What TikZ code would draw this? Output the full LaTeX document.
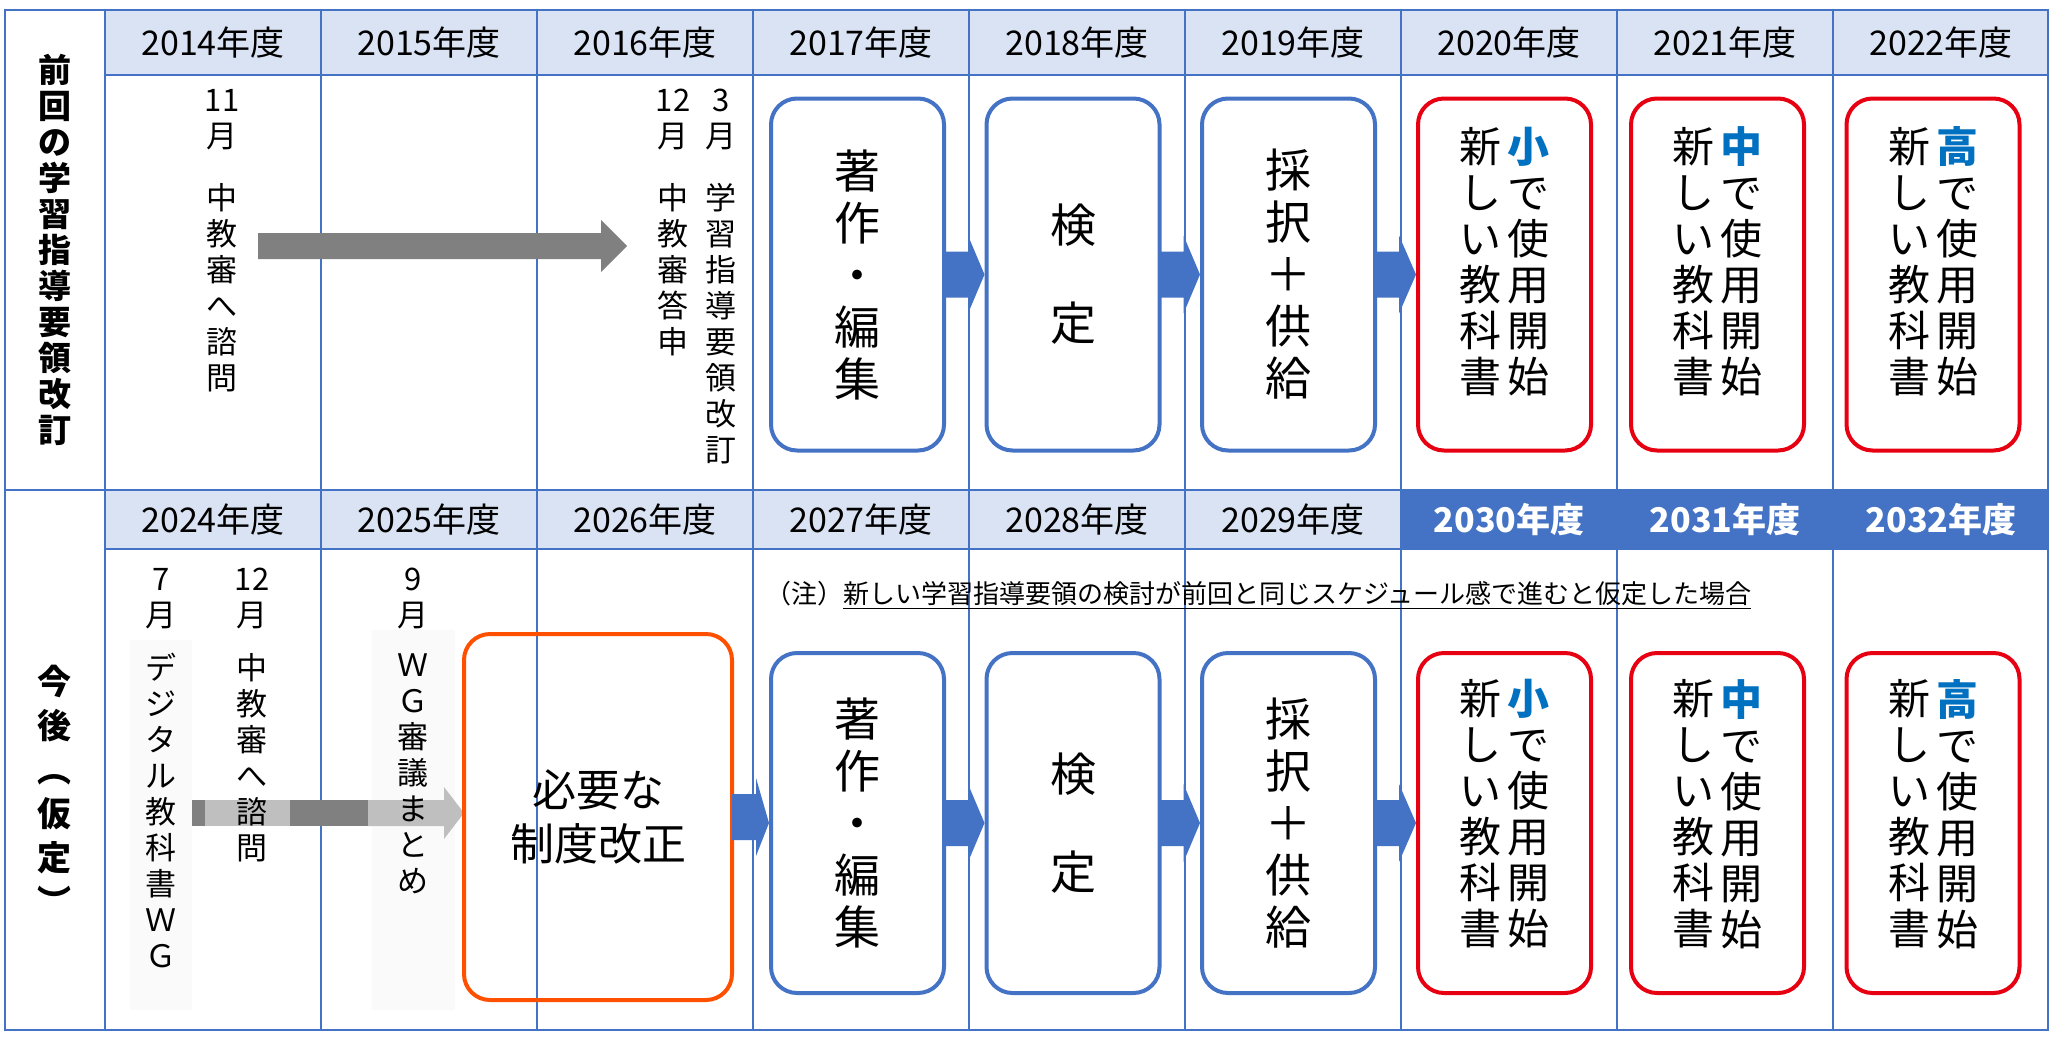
\documentclass[tikz,border=0pt]{standalone}
\usepackage{fontspec}
\setmainfont{Noto Sans CJK JP}
\usetikzlibrary{calc,positioning}
\definecolor{gridblue}{RGB}{68,114,196}
\definecolor{headfill}{RGB}{218,227,243}
\definecolor{boxred}{RGB}{230,0,18}
\definecolor{boxorange}{RGB}{255,80,0}
\definecolor{stageblue}{RGB}{0,112,192}
\newcommand{\fs}[2]{\fontsize{#1}{#2}\selectfont}
\newcommand{\blockarrow}[2]{\fill[gridblue] ($(#1.east)+(-2,-23)$) -- ($(#1.east)+(22,-23)$) -- ($(#1.east)+(22,-39)$) -- (#2.west) -- ($(#1.east)+(22,39)$) -- ($(#1.east)+(22,23)$) -- ($(#1.east)+(-2,23)$) -- cycle;}

\begin{document}
\begin{tikzpicture}[x=0.5pt,y=-0.5pt]
    \tikzstyle{yearhead} = [font=\fs{17}{20}]
    \tikzstyle{tate} = [font=\fs{15.5}{18}, align=center, inner sep=0pt, anchor=north]
    \tikzstyle{stage} = [draw=gridblue, line width=2pt, rounded corners=13pt, minimum width=86.5pt, font=\fs{23}{26}, align=center]
    \tikzstyle{start} = [stage, draw=boxred]
    \tikzstyle{coltext} = [font=\fs{21}{23}, align=center, inner sep=0pt, anchor=north]

    \useasboundingbox (0,0) rectangle (2050,1039);
    \fill[white] (0,0) rectangle (2050,1039);

    % header cells
    \fill[headfill] (105,10) rectangle (2048,75);
    \fill[headfill] (105,490) rectangle (1401,549);
    \fill[gridblue] (1401,490) rectangle (2048,549);
    \fill[black!2] (130,640) rectangle (192,1010);
    \fill[black!2] (372,630) rectangle (455,1010);

    % grid
    \draw[gridblue, line width=1pt] (5,10) rectangle (2048,1030);
    \draw[gridblue, line width=1pt] (5,490) -- (2048,490);
    \draw[gridblue, line width=1pt] (105,75) -- (2048,75) (105,549) -- (2048,549);
    \foreach \k in {0,...,8}
        \draw[gridblue, line width=1pt] (105+216*\k,10) -- (105+216*\k,1030);

    % year headers
    \foreach \yr [count=\i from 0] in {2014,...,2022}
        \node[yearhead] (top\i) at (213+216*\i,42.5) {\yr 年度};
    \foreach \yr [count=\i from 0] in {2024,...,2029}
        \node[yearhead] (bot\i) at (213+216*\i,519.5) {\yr 年度};
    \foreach \yr [count=\i from 6] in {2030,2031,2032}
        \node[yearhead, text=white, font=\fs{17}{20}\bfseries] (bot\i) at (213+216*\i,519.5) {\yr 年度};

    % row labels
    \node[font=\fs{16.5}{18}\bfseries, align=center] (prevlabel) at (55,250) {前\\回\\の\\学\\習\\指\\導\\要\\領\\改\\訂};
    \node[font=\fs{17}{22}\bfseries, align=center] (nextlabel) at (55,790) {今\\後\\︵\\仮\\定\\︶};

    % previous revision: events
    \fill[black!50] (258,233) -- (601,233) -- (601,220) -- (627,246) -- (601,272) -- (601,259) -- (258,259) -- cycle;
    \node[tate] (m11) at (222,89) {11\\月};
    \node[tate] (inq) at (222,183) {中\\教\\審\\へ\\諮\\問};
    \node[tate] (m12) at (673,89) {12\\月};
    \node[tate] (rep) at (673,183) {中\\教\\審\\答\\申};
    \node[tate] (m3) at (721,89) {3\\月};
    \node[tate] (rev) at (721,183) {学\\習\\指\\導\\要\\領\\改\\訂};

    % previous revision: stages
    \node[stage, minimum height=176pt] (edit) at (857.5,274.5) {著\\作\\・\\編\\集};
    \node[stage, minimum height=176pt] (check) at (1073,274.5) {検\\[23pt]定};
    \node[stage, minimum height=176pt] (supply) at (1288.5,274.5) {採\\択\\＋\\供\\給};
    \foreach \nm/\cx/\lv in {elem/1504.5/小, mid/1717.5/中, high/1933/高} {
        \node[start, minimum height=176pt] (\nm) at (\cx,274.5) {};
        \node[coltext] at ($(\nm.north)+(24,30)$) {{\color{stageblue}\bfseries \lv}\\で\\使\\用\\開\\始};
        \node[coltext] at ($(\nm.north)+(-24,30)$) {新\\し\\い\\教\\科\\書};
    }
    \blockarrow{edit}{check}
    \blockarrow{check}{supply}
    \blockarrow{supply}{elem}

    % next revision: events
    \fill[black!50] (192,800) rectangle (205,826);
    \fill[black!25] (205,800) rectangle (290,826);
    \fill[black!50] (290,800) rectangle (368,826);
    \fill[black!25] (368,800) -- (444,800) -- (444,787) -- (464,813) -- (444,839) -- (444,826) -- (368,826) -- cycle;
    \node[tate] (m7) at (161,568) {7\\月};
    \node[tate] (dwg) at (161,653) {デ\\ジ\\タ\\ル\\教\\科\\書\\Ｗ\\Ｇ};
    \node[tate] (m12b) at (252,568) {12\\月};
    \node[tate] (inqb) at (252,653) {中\\教\\審\\へ\\諮\\問};
    \node[tate] (m9) at (413,568) {9\\月};
    \node[tate] (wgsum) at (413,653) {Ｗ\\Ｇ\\審\\議\\ま\\と\\め};

    \node[anchor=west, font=\fs{13}{15}] (note) at (758,595) {（注）\underline{新しい学習指導要領の検討が前回と同じスケジュール感で進むと仮定した場合}};

    % next revision: stages
    \node[stage, draw=boxorange, minimum width=134pt, minimum height=183pt, font=\fs{22}{27}] (law) at (598,817) {必要な\\制度改正};
    \node[stage, minimum height=170pt] (edit2) at (857.5,823) {著\\作\\・\\編\\集};
    \node[stage, minimum height=170pt] (check2) at (1073,823) {検\\[23pt]定};
    \node[stage, minimum height=170pt] (supply2) at (1288.5,823) {採\\択\\＋\\供\\給};
    \foreach \nm/\cx/\lv in {elem2/1504.5/小, mid2/1717.5/中, high2/1933/高} {
        \node[start, minimum height=170pt] (\nm) at (\cx,823) {};
        \node[coltext] at ($(\nm.north)+(24,28)$) {{\color{stageblue}\bfseries \lv}\\で\\使\\用\\開\\始};
        \node[coltext] at ($(\nm.north)+(-24,28)$) {新\\し\\い\\教\\科\\書};
    }
    \blockarrow{law}{edit2}
    \blockarrow{edit2}{check2}
    \blockarrow{check2}{supply2}
    \blockarrow{supply2}{elem2}
\end{tikzpicture}
\end{document}
